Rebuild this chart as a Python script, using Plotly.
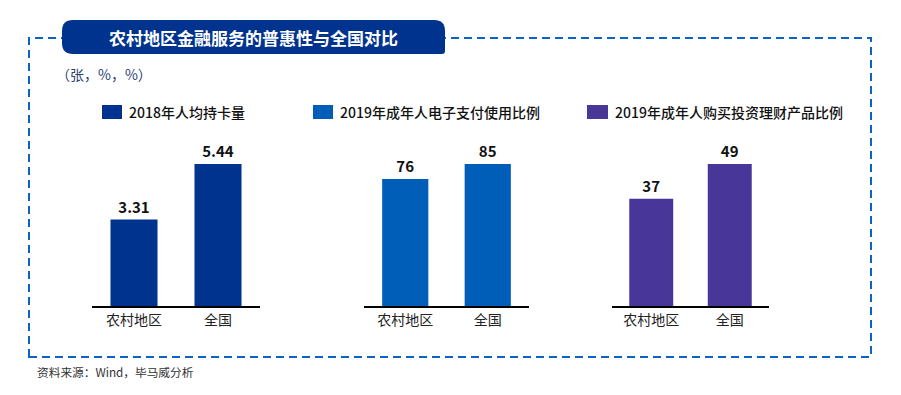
import plotly.graph_objects as go

W, H = 901, 395

categories = ["农村地区", "全国"]
card_per_capita_2018 = [3.31, 5.44]
epay_ratio_2019 = [76, 85]
wealth_ratio_2019 = [37, 49]
series_names = ["2018年人均持卡量", "2019年成年人电子支付使用比例", "2019年成年人购买投资理财产品比例"]
value_labels = [["3.31", "5.44"], ["76", "85"], ["37", "49"]]
colors = ["#00338D", "#005EB8", "#483698"]

title_text = "农村地区金融服务的普惠性与全国对比"
unit_text = "（张，%，%）"
source_text = "资料来源：Wind，毕马威分析"

FONT = "Noto Sans CJK SC"

def px(x):
    return x / W

def py(y):
    return 1 - y / H

x_domains_px = [(92, 260), (364, 529), (612, 769)]
y_bottom_px, y_top_px, bar_top_px = 306, 150, 164

fig = go.Figure()
data_sets = [card_per_capita_2018, epay_ratio_2019, wealth_ratio_2019]
for i, (vals, labels, col, name) in enumerate(zip(data_sets, value_labels, colors, series_names)):
    suffix = "" if i == 0 else str(i + 1)
    fig.add_trace(go.Bar(
        x=categories, y=vals, name=name,
        marker=dict(color=col, line=dict(width=0)),
        text=labels, textposition="outside", cliponaxis=False,
        textfont=dict(family=FONT, size=15, color="#111111", weight="bold"),
        xaxis="x" + suffix, yaxis="y" + suffix, showlegend=False, hoverinfo="skip",
    ))
    scale = (y_bottom_px - y_top_px) / (y_bottom_px - bar_top_px)
    xd = x_domains_px[i]
    fig.update_layout(**{
        "xaxis" + suffix: dict(
            domain=[px(xd[0]), px(xd[1])], anchor="y" + suffix,
            showline=True, linecolor="#000000", linewidth=1.5,
            ticks="", showgrid=False, zeroline=False, fixedrange=True,
            tickfont=dict(family=FONT, size=14, color="#222222"),
        ),
        "yaxis" + suffix: dict(
            domain=[py(y_bottom_px), py(y_top_px)], anchor="x" + suffix,
            range=[0, max(vals) * scale], visible=False, fixedrange=True,
        ),
    })

shapes = []
# dashed frame
shapes.append(dict(type="rect", xref="paper", yref="paper",
                   x0=px(29), x1=px(871), y0=py(357), y1=py(38),
                   line=dict(color="#0A64C2", width=2, dash="8px,5px"),
                   fillcolor="rgba(0,0,0,0)"))
# title banner (rounded)
bx0, bx1, by0, by1, r = 62, 445, 20, 54, 11
path = (f"M {bx0 + r},{by0} L {bx1 - r},{by0} Q {bx1},{by0} {bx1},{by0 + r} "
        f"L {bx1},{by1 - 3} Q {bx1},{by1} {bx1 - 3},{by1} "
        f"L {bx0 + r},{by1} Q {bx0},{by1} {bx0},{by1 - r} "
        f"L {bx0},{by0 + r} Q {bx0},{by0} {bx0 + r},{by0} Z")

def conv_path(p):
    out = []
    for tok in p.split(" "):
        if "," in tok:
            a, b = tok.split(",")
            out.append(f"{px(float(a)):.5f},{py(float(b)):.5f}")
        else:
            out.append(tok)
    return " ".join(out)

shapes.append(dict(type="path", xref="paper", yref="paper", path=conv_path(path),
                   fillcolor="#00338D", line=dict(width=0)))

# legend squares
legend_sq = [(102, 122), (313, 333), (587, 608)]
for (x0, x1), col in zip(legend_sq, colors):
    shapes.append(dict(type="rect", xref="paper", yref="paper",
                       x0=px(x0), x1=px(x1), y0=py(119), y1=py(105),
                       fillcolor=col, line=dict(width=0)))

annotations = [
    dict(text=title_text, x=px(253), y=py(37), xref="paper", yref="paper",
         showarrow=False, xanchor="center", yanchor="middle",
         font=dict(family=FONT, size=17, color="#FFFFFF", weight="bold")),
    dict(text=unit_text, x=px(54), y=py(74), xref="paper", yref="paper",
         showarrow=False, xanchor="left", yanchor="middle",
         font=dict(family=FONT, size=14, color="#2A3F73")),
    dict(text=source_text, x=px(35), y=py(371), xref="paper", yref="paper",
         showarrow=False, xanchor="left", yanchor="middle",
         font=dict(family=FONT, size=11.7, color="#333333")),
]
for (x0, x1), name in zip(legend_sq, series_names):
    annotations.append(dict(text=name, x=px(x1 + 5), y=py(112), xref="paper", yref="paper",
                            showarrow=False, xanchor="left", yanchor="middle",
                            font=dict(family=FONT, size=14, color="#111111", weight=500)))

fig.update_layout(
    width=W, height=H,
    margin=dict(l=0, r=0, t=0, b=0),
    paper_bgcolor="#FFFFFF", plot_bgcolor="#FFFFFF",
    bargap=0.44,
    shapes=shapes, annotations=annotations,
    font=dict(family=FONT),
)

fig.write_html("out.html", config={"displayModeBar": False},
               post_script="document.body.style.margin='0';document.body.style.overflow='hidden';")
